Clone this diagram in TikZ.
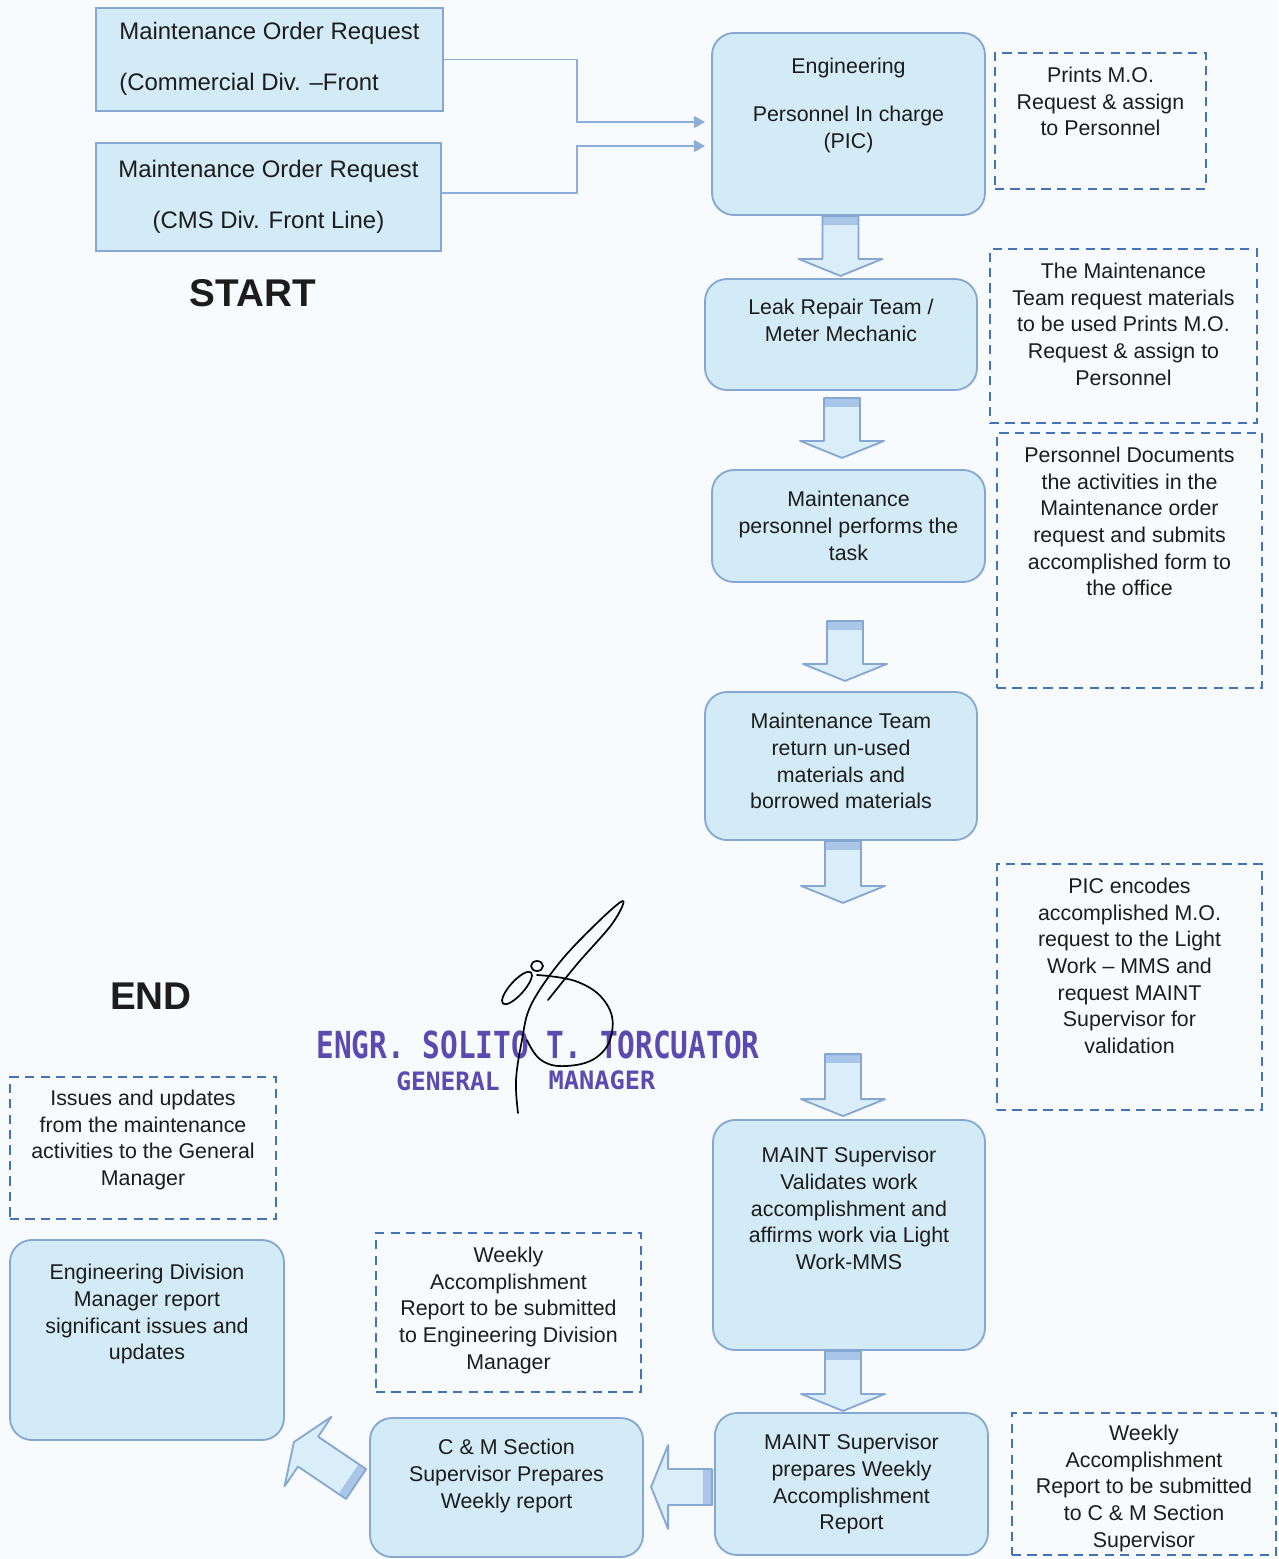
\documentclass[tikz,border=0pt]{standalone}
\usepackage{fontspec}
\setmainfont{Liberation Sans}
\newfontfamily\stampfont{DejaVu Sans Mono}
\usetikzlibrary{arrows.meta,positioning,calc}
\definecolor{BoxFill}{HTML}{D3EBF7}
\definecolor{BoxLine}{HTML}{86A7D2}
\definecolor{DashLine}{HTML}{4474B8}
\definecolor{ArrFill}{HTML}{DAEEF9}
\definecolor{ArrBand}{HTML}{A9C5E8}
\definecolor{ConnLine}{HTML}{8DAEDA}
\definecolor{Stamp}{HTML}{5B4BB0}
\definecolor{PaperBg}{HTML}{F7FBFE}
\definecolor{Ink}{HTML}{1C1C1C}
\tikzset{
  boxsize/.style 2 args={minimum width=#1*0.025cm, minimum height=#2*0.025cm},
  reqbox/.style={draw=BoxLine, line width=1.3pt, fill=BoxFill, inner sep=0pt,
    align=center, text=Ink, font={\fontsize{17}{21}\selectfont}},
  procbox/.style={draw=BoxLine, line width=1.3pt, fill=BoxFill, rounded corners=0.55cm, inner sep=0pt},
  notebox/.style={draw=DashLine, line width=1.4pt, dash pattern=on 6.5pt off 4.5pt, inner sep=0pt},
  boxtext/.style={align=center, inner sep=0pt, text=Ink, font={\fontsize{15.2}{18.9}\selectfont}},
  bigword/.style={inner sep=0pt, text=Ink, font={\fontsize{27.5}{30}\selectfont\bfseries}},
  stamp/.style={inner sep=0pt, text=Stamp, font={\stampfont\bfseries\fontsize{#1}{#1}\selectfont}},
  connarr/.style={draw=ConnLine, line width=1.4pt, -{Triangle[length=8pt,width=8.5pt]}},
  sign/.style={draw=black, line width=1.2pt, line cap=round, line join=round},
  pics/blockarr/.style={code={
    \fill[ArrFill] (0,-18) -- ({#1-17},-18) -- ({#1-17},-42) -- (#1,0)
      -- ({#1-17},42) -- ({#1-17},18) -- (0,18) -- cycle;
    \fill[ArrBand] (0,-18) rectangle (9,18);
    \draw[BoxLine, line width=1.3pt, line join=round] (0,-18) -- ({#1-17},-18)
      -- ({#1-17},-42) -- (#1,0) -- ({#1-17},42) -- ({#1-17},18) -- (0,18) -- cycle;
  }},
}

\begin{document}
\begin{tikzpicture}[x=0.025cm, y=-0.025cm]
  \fill[PaperBg] (0,0) rectangle (1278,1559);
  \useasboundingbox (0,0) rectangle (1278,1559);

  % requests
  \node[reqbox, boxsize={347}{103}] (req1) at (269.5,59.5)
    {\begin{tabular}{@{}l@{}}Maintenance Order Request\\[15.3pt](Commercial Div. --Front\end{tabular}};
  \node[reqbox, boxsize={345}{108}] (req2) at (268.5,197)
    {Maintenance Order Request\\[15.3pt](CMS Div. Front Line)};
  \node[bigword] (start) at (253,293) {START};

  % main column
  \node[procbox, boxsize={273}{182}] (pic) at (848.5,124) {};
  \node[boxtext, anchor=north] (picTxt) at ($(pic.north)+(0,26)$)
    {Engineering\\[15pt]Personnel In charge\\(PIC)};
  \node[procbox, boxsize={272}{111}] (leak) at (841,334.5) {};
  \node[boxtext, anchor=north] (leakTxt) at ($(leak.north)+(0,21)$)
    {Leak Repair Team /\\Meter Mechanic};
  \node[procbox, boxsize={273}{112}] (mper) at (848.5,526) {};
  \node[boxtext, anchor=north] (mperTxt) at ($(mper.north)+(0,22)$)
    {Maintenance\\personnel performs the\\task};
  \node[procbox, boxsize={272}{148}] (team) at (841,766) {};
  \node[boxtext, anchor=north] (teamTxt) at ($(team.north)+(0,22)$)
    {Maintenance Team\\return un-used\\materials and\\borrowed materials};
  \node[procbox, boxsize={272}{230}] (valid) at (849,1235) {};
  \node[boxtext, anchor=north] (validTxt) at ($(valid.north)+(0,28)$)
    {MAINT Supervisor\\Validates work\\accomplishment and\\affirms work via Light\\Work-MMS};
  \node[procbox, boxsize={273}{142}] (prep) at (851.5,1484) {};
  \node[boxtext, anchor=north] (prepTxt) at ($(prep.north)+(0,22)$)
    {MAINT Supervisor\\prepares Weekly\\Accomplishment\\Report};

  % bottom row
  \node[procbox, boxsize={273}{139}] (cms) at (506.5,1487.5) {};
  \node[boxtext, anchor=north] (cmsTxt) at ($(cms.north)+(0,22)$)
    {C \& M Section\\Supervisor Prepares\\Weekly report};
  \node[procbox, boxsize={274}{200}] (edm) at (147,1340) {};
  \node[boxtext, anchor=north] (edmTxt) at ($(edm.north)+(0,25)$)
    {Engineering Division\\Manager report\\significant issues and\\updates};
  \node[bigword] (finish) at (151,996) {END};

  % notes
  \node[notebox, boxsize={211}{136}] (nPrint) at (1100.5,121) {};
  \node[boxtext, anchor=north] (nPrintTxt) at ($(nPrint.north)+(0,15)$)
    {Prints M.O.\\Request \& assign\\to Personnel};
  \node[notebox, boxsize={267}{174}] (nMat) at (1123.5,336) {};
  \node[boxtext, anchor=north] (nMatTxt) at ($(nMat.north)+(0,15)$)
    {The Maintenance\\Team request materials\\to be used Prints M.O.\\Request \& assign to\\Personnel};
  \node[notebox, boxsize={265}{255}] (nDoc) at (1129.5,560.5) {};
  \node[boxtext, anchor=north] (nDocTxt) at ($(nDoc.north)+(0,15)$)
    {Personnel Documents\\the activities in the\\Maintenance order\\request and submits\\accomplished form to\\the office};
  \node[notebox, boxsize={265}{246}] (nEnc) at (1129.5,987) {};
  \node[boxtext, anchor=north] (nEncTxt) at ($(nEnc.north)+(0,15)$)
    {PIC encodes\\accomplished M.O.\\request to the Light\\Work -- MMS and\\request MAINT\\Supervisor for\\validation};
  \node[notebox, boxsize={264}{142}] (nWkCm) at (1144,1484) {};
  \node[boxtext, anchor=north] (nWkCmTxt) at ($(nWkCm.north)+(0,13)$)
    {Weekly\\Accomplishment\\Report to be submitted\\to C \& M Section\\Supervisor};
  \node[notebox, boxsize={265}{159}] (nWkEng) at (508.5,1312.5) {};
  \node[boxtext, anchor=north] (nWkEngTxt) at ($(nWkEng.north)+(0,15)$)
    {Weekly\\Accomplishment\\Report to be submitted\\to Engineering Division\\Manager};
  \node[notebox, boxsize={266}{142}] (nIssue) at (143,1148) {};
  \node[boxtext, anchor=north] (nIssueTxt) at ($(nIssue.north)+(0,14)$)
    {Issues and updates\\from the maintenance\\activities to the General\\Manager};

  % connectors
  \draw[connarr] (req1.east) -- ++(133,0) |- ($(pic.west)+(-6,-2)$);
  \draw[connarr] ([yshift=2.8pt]req2.east) -- ++(135,0) |- ($(pic.west)+(-6,22)$);

  \pic[rotate=-90] at ($(pic.south)+(-8,0)$) {blockarr=60};
  \pic[rotate=-90] at ($(leak.south)+(1,7)$) {blockarr=60};
  \pic[rotate=-90] at ($(mper.south)+(-3.5,38)$) {blockarr=60};
  \pic[rotate=-90] at ($(team.south)+(2,0)$) {blockarr=62};
  \pic[rotate=-90] at ($(valid.north)+(-6,-65)$) {blockarr=62};
  \pic[rotate=-90] at ($(valid.south)+(-6,0)$) {blockarr=60};
  \pic[rotate=180] at ($(prep.west)+(-2,3)$) {blockarr=61};
  \pic[rotate=146] at ($(cms.west)+(-13,-3.5)$) {blockarr=75};

  % signature
  \node[stamp=26.5] (gmName) at (538,1045) {\scalebox{0.79}[1]{ENGR. SOLITO T. TORCUATOR}};
  \node[stamp=18] (gmTitleA) at (448,1081) {\scalebox{0.97}[1]{GENERAL}};
  \node[stamp=18] (gmTitleB) at (602,1080) {\scalebox{1.0}[1]{MANAGER}};
  \draw[sign] plot[smooth, tension=0.6] coordinates {(518,1113) (516,1080) (522,1040) (531,1005)
    (560,962) (598,922) (623,901) (612,924) (578,963) (548,1000)};
  \draw[sign] plot[smooth, tension=0.7] coordinates {(537,975) (578,982) (606,1003) (612,1032)
    (597,1057) (566,1066) (541,1060) (527,1040)};
  \draw[sign, rotate around={48:(517,988)}] (517,988) ellipse (21 and 7);
  \draw[sign] (537,966) ellipse (6 and 5);
\end{tikzpicture}
\end{document}
